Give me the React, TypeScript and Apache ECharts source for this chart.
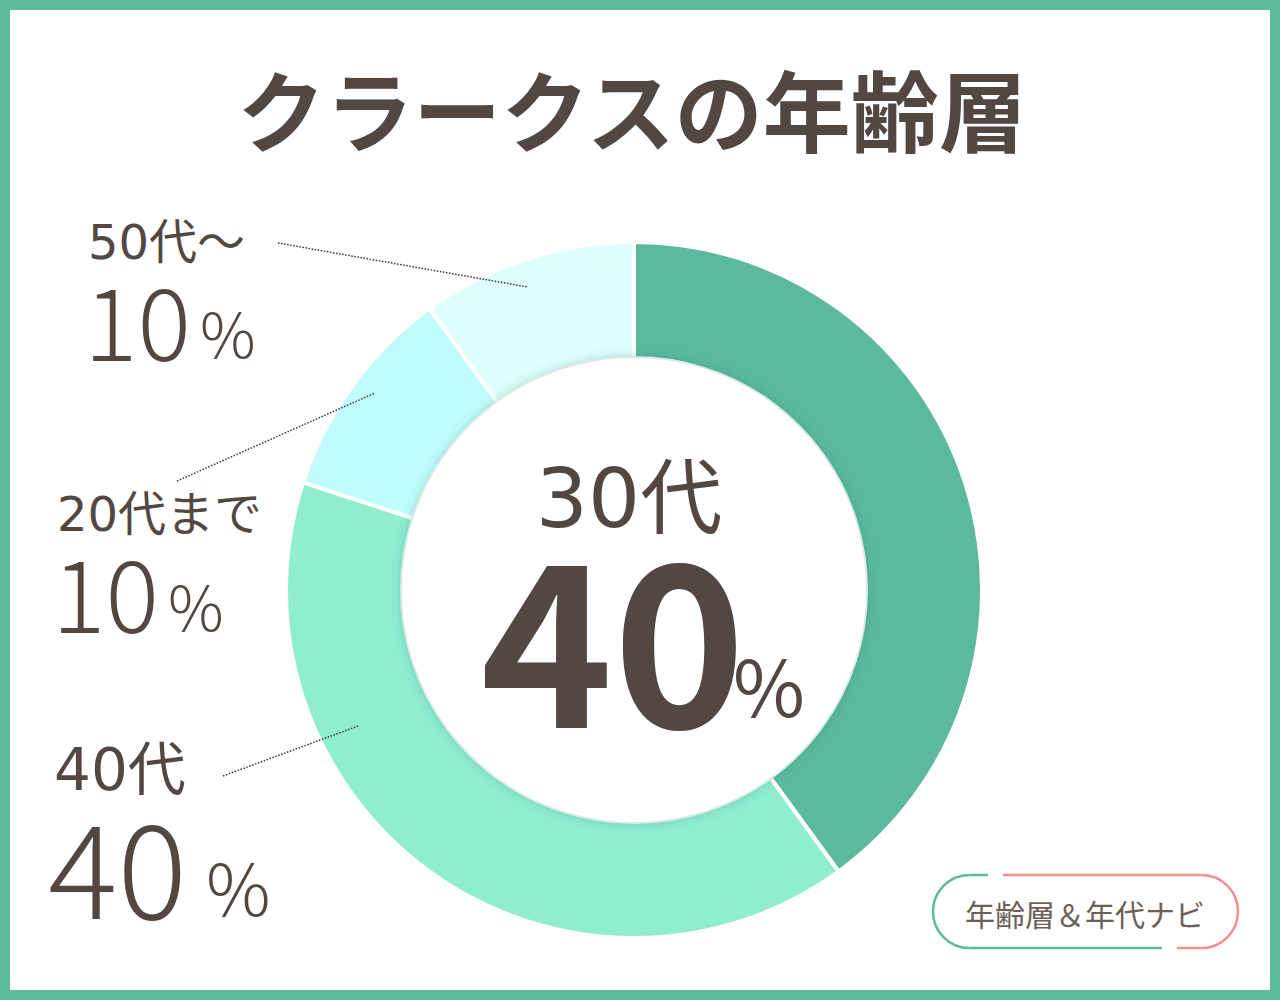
import React, { useEffect, useRef } from "react";
import * as echarts from "echarts";

const title = "クラークスの年齢層";
const categories = ["30代", "40代", "20代まで", "50代～"];
const values = [40, 40, 10, 10];
const sliceColors = ["#5cb99d", "#90edd0", "#c1fcfc", "#dffefe"];
const badgeText = "年齢層＆年代ナビ";

const TEXT = "#534741";
const FONT = '"Noto Sans CJK JP", "Noto Sans", sans-serif';
const LABEL_FONT = '"DejaVu Sans", "Noto Sans CJK JP", sans-serif';

export default function App() {
  const ref = useRef<HTMLDivElement>(null);
  useEffect(() => {
    if (!ref.current) return;
    const chart = echarts.init(ref.current, undefined, { renderer: "svg" });
    const cx = 634;
    const cy = 590;
    const rIn = 232;
    const rOut = 348;

    const txt = (
      text: string,
      x: number,
      y: number,
      size: number,
      weight: string | number,
      align: string,
      family = FONT,
      fill = TEXT
    ) => ({
      type: "text",
      x,
      y,
      z: 20,
      style: {
        text,
        fill,
        fontSize: size,
        fontWeight: weight,
        fontFamily: family,
        align,
        verticalAlign: "middle",
      },
    });

    const dotted = (x1: number, y1: number, x2: number, y2: number) => ({
      type: "line",
      z: 20,
      shape: { x1, y1, x2, y2 },
      style: { stroke: "#3a3330", lineWidth: 1.5, lineDash: [1.5, 1.6] },
    });

    const pill = { x1: 933, x2: 1238, y1: 875, y2: 948 };
    const pr = (pill.y2 - pill.y1) / 2;
    const pcy = (pill.y1 + pill.y2) / 2;
    const green = "#5dba9d";
    const pink = "#f09090";

    chart.setOption({
      animation: false,
      backgroundColor: "#5dba9d",
      graphic: [
        { type: "rect", z: 0, shape: { x: 10, y: 10, width: 1260, height: 980 }, style: { fill: "#ffffff" } },
        {
          type: "circle",
          z: 10,
          shape: { cx, cy, r: rIn },
          style: { fill: "#ffffff", shadowBlur: 12, shadowColor: "rgba(30,110,90,0.35)" },
        },
        txt(title, 632, 106, 88, "bold", "center"),
        // center
        txt(categories[0], 629, 498, 82, "normal", "center", LABEL_FONT),
        txt(String(values[0]), 613, 630, 225, "bold", "center"),
        txt("%", 733, 683, 78, "normal", "left"),
        // 50代～
        txt(categories[3], 88, 242, 48, "normal", "left", LABEL_FONT),
        txt(String(values[3]), 84, 317, 100, 300, "left"),
        txt("%", 200, 331, 62, 300, "left"),
        dotted(278, 243, 528, 287),
        // 20代まで
        txt(categories[2], 57, 514, 48, "normal", "left", LABEL_FONT),
        txt(String(values[2]), 52, 589, 100, 300, "left"),
        txt("%", 168, 604, 62, 300, "left"),
        dotted(177, 481, 375, 393),
        // 40代
        txt(categories[1], 54, 770, 58, "normal", "left", LABEL_FONT),
        txt(String(values[1]), 48, 862, 130, 300, "left"),
        txt("%", 206, 884, 72, 300, "left"),
        dotted(223, 776, 358, 726),
        // badge
        {
          type: "arc",
          z: 20,
          shape: { cx: pill.x1 + pr, cy: pcy, r: pr, startAngle: Math.PI / 2, endAngle: (Math.PI * 3) / 2, clockwise: true },
          style: { stroke: green, lineWidth: 2.5, fill: null },
        },
        { type: "line", z: 20, shape: { x1: pill.x1 + pr, y1: pill.y1, x2: 988, y2: pill.y1 }, style: { stroke: green, lineWidth: 2.5 } },
        { type: "line", z: 20, shape: { x1: pill.x1 + pr, y1: pill.y2, x2: 1162, y2: pill.y2 }, style: { stroke: green, lineWidth: 2.5 } },
        {
          type: "arc",
          z: 20,
          shape: { cx: pill.x2 - pr, cy: pcy, r: pr, startAngle: -Math.PI / 2, endAngle: Math.PI / 2, clockwise: true },
          style: { stroke: pink, lineWidth: 2.5, fill: null },
        },
        { type: "line", z: 20, shape: { x1: 1003, y1: pill.y1, x2: pill.x2 - pr, y2: pill.y1 }, style: { stroke: pink, lineWidth: 2.5 } },
        { type: "line", z: 20, shape: { x1: 1177, y1: pill.y2, x2: pill.x2 - pr, y2: pill.y2 }, style: { stroke: pink, lineWidth: 2.5 } },
        txt(badgeText, 1085, 913, 30, "normal", "center", FONT, "#6b5f58"),
      ],
      series: [
        {
          type: "pie",
          z: 2,
          center: [cx, cy],
          radius: [rIn, rOut],
          startAngle: 90,
          clockwise: true,
          silent: true,
          label: { show: false },
          labelLine: { show: false },
          itemStyle: { borderColor: "#ffffff", borderWidth: 4 },
          data: categories.map((name, i) => ({
            name,
            value: values[i],
            itemStyle: { color: sliceColors[i] },
          })),
        },
      ],
    });
    return () => chart.dispose();
  }, []);
  return (
    <div
      ref={ref}
      style={{ position: "absolute", left: 0, top: 0, width: 1280, height: 1000 }}
    />
  );
}
